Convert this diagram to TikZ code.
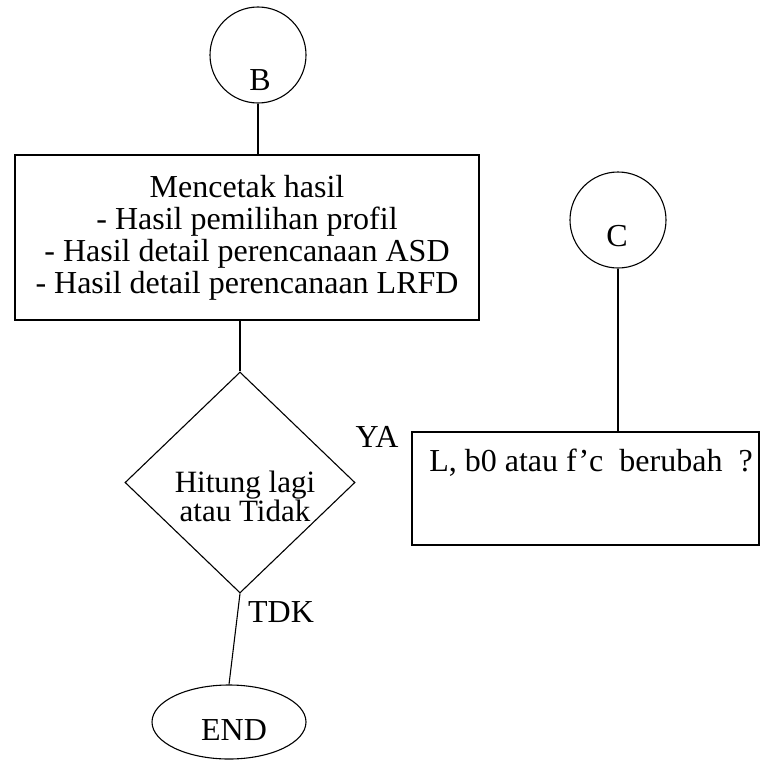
\documentclass[tikz,border=0pt]{standalone}
\usepackage{fontspec}
\setmainfont{Liberation Serif}
\usetikzlibrary{shapes.geometric}
\tikzset{
  ln/.style={line width=1.1pt, black},
  txt/.style={font=\fontsize{32}{32}\selectfont, inner sep=0pt},
  conn/.style={circle, draw, line width=1.1pt, minimum size=96pt, inner sep=0pt},
  procbox/.style={rectangle, draw, line width=1.1pt, inner sep=0pt},
  decide/.style={diamond, draw, line width=1.1pt, inner sep=0pt, minimum width=230pt, minimum height=221pt},
  term/.style={ellipse, draw, line width=1.1pt, inner sep=0pt, minimum width=154pt, minimum height=74pt}
}
\begin{document}
\begin{tikzpicture}[x=1pt,y=-1pt]
\useasboundingbox (0,0) rectangle (762,760);
% connector B
\node[conn] (cB) at (258,55) {};
\node[txt] (tB) at (260,80) {B};
% print box
\node[procbox, minimum width=464pt, minimum height=165pt] (box1) at (247,237.5) {};
\node[txt, align=center] (t1) at (247,238) {Mencetak hasil\\- Hasil pemilihan profil\\- Hasil detail perencanaan ASD\\- Hasil detail perencanaan LRFD};
% decision
\node[decide] (d) at (240,482.5) {};
\node[txt, align=center, font=\fontsize{31}{28}\selectfont] (dt) at (245,496) {Hitung lagi\\atau Tidak};
% labels
\node[txt] (ya) at (377,437) {YA};
\node[txt] (tdk) at (281,612) {TDK};
% end
\node[term] (e) at (229,722) {};
\node[txt] (te) at (234,730) {END};
% connector C
\node[conn] (cC) at (618,220) {};
\node[txt] (tC) at (617,236) {C};
% question box
\node[procbox, minimum width=347pt, minimum height=113pt] (q) at (585.5,488.5) {};
\node[txt] (tq) at (591,463) {L, b0 atau f'c\ \ berubah \ ?};
% connectors
\draw[ln] (cB.south) -- (cB.south |- box1.north);
\draw[ln] (d.north |- box1.south) -- (d.north);
\draw[ln] (d.south) -- (e.north);
\draw[ln] (cC.south) -- (cC.south |- q.north);
\end{tikzpicture}
\end{document}
